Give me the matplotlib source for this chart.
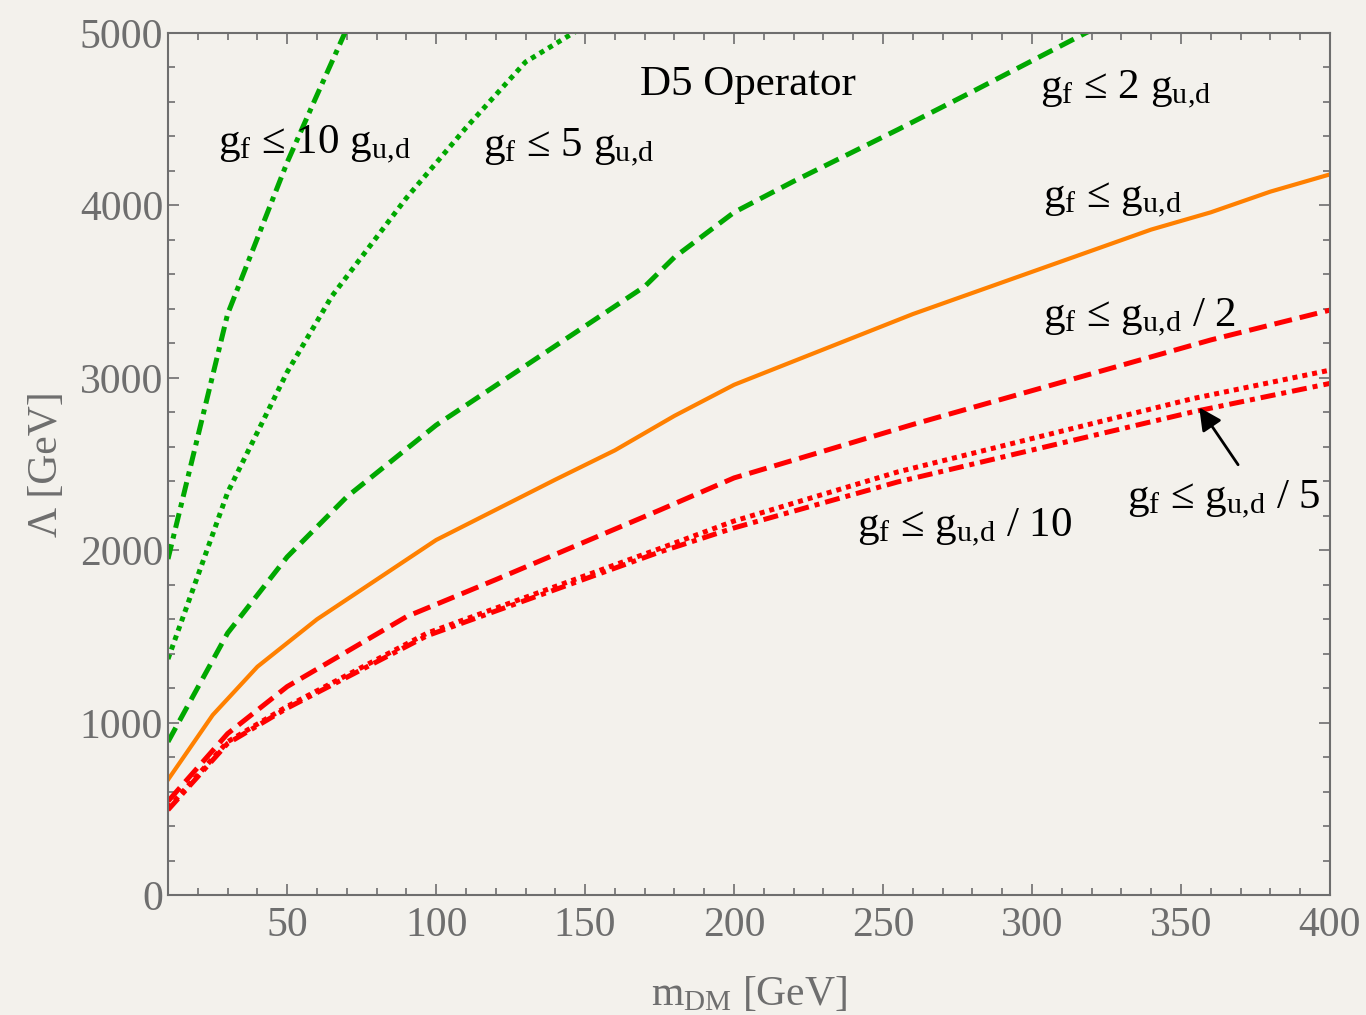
import matplotlib.pyplot as plt

# m_DM [GeV] and Lambda [GeV]
x_g10 = [10, 30, 40, 50, 60, 70]
y_g10 = [1950, 3370, 3810, 4250, 4640, 5025]

x_g5 = [10, 30, 50, 65, 90, 110, 130, 150]
y_g5 = [1370, 2335, 3034, 3474, 4043, 4450, 4832, 5042]

x_g2 = [10, 30, 50, 70, 100, 170, 180, 200, 220, 255, 280, 318, 330]
y_g2 = [890, 1520, 1962, 2310, 2726, 3530, 3700, 3960, 4140, 4440, 4660, 5000, 5100]

x_g1 = [10, 25, 40, 60, 100, 140, 160, 180, 200, 260, 340, 360, 380, 400]
y_g1 = [670, 1045, 1325, 1600, 2060, 2410, 2580, 2780, 2960, 3370, 3860, 3960, 4080, 4180]

x_gh2 = [10, 30, 50, 90, 120, 175, 200, 260, 360, 400]
y_gh2 = [545, 937, 1210, 1615, 1830, 2233, 2420, 2730, 3220, 3393]

x_gh5 = [10, 30, 50, 97, 175, 200, 255, 354, 400]
y_gh5 = [505, 890, 1095, 1520, 2010, 2170, 2455, 2880, 3045]

x_gh10 = [10, 30, 50, 97, 175, 200, 255, 354, 400]
y_gh10 = [495, 880, 1085, 1505, 1990, 2130, 2397, 2803, 2968]

plt.rcParams['font.family'] = ['Liberation Serif', 'DejaVu Serif']
plt.rcParams['mathtext.fontset'] = 'custom'
plt.rcParams['mathtext.rm'] = 'Liberation Serif'
plt.rcParams['mathtext.it'] = 'Liberation Serif'

paper = '#f3f1ec'
grey = '#6e6e6e'
green = '#00a800'
orange = '#ff8000'
red = '#ff0000'

fig = plt.figure(figsize=(13.66, 10.15), dpi=100, facecolor=paper)
ax = fig.add_axes([0.123, 0.118, 0.8506, 0.8495], facecolor=paper)

ax.plot(x_g10, y_g10, color=green, lw=3.6, dashes=(3.0, 1.2, 1, 1.2))
ax.plot(x_g5, y_g5, color=green, lw=3.6, dashes=(1, 1))
ax.plot(x_g2, y_g2, color=green, lw=3.6, dashes=(3.2, 1.6))
ax.plot(x_g1, y_g1, color=orange, lw=3.0)
ax.plot(x_gh2, y_gh2, color=red, lw=3.6, dashes=(3.6, 1.6))
ax.plot(x_gh5, y_gh5, color=red, lw=3.6, dashes=(1, 1))
ax.plot(x_gh10, y_gh10, color=red, lw=3.6, dashes=(3.0, 1.2, 1, 1.2))

ax.set_xlim(10, 400)
ax.set_ylim(0, 5000)
ax.set_xticks([50, 100, 150, 200, 250, 300, 350, 400])
ax.set_xticks(range(10, 401, 10), minor=True)
ax.set_yticks(range(0, 5001, 1000))
ax.set_yticks(range(0, 5001, 200), minor=True)
ax.tick_params(which='both', direction='in', top=True, right=True, color=grey,
               labelcolor=grey, labelsize=30, width=1.2)
ax.tick_params(which='major', length=8)
ax.tick_params(which='minor', length=5)
ax.tick_params(axis='x', pad=8)
for s in ax.spines.values():
    s.set_color(grey)
    s.set_linewidth(1.5)

ax.set_xlabel('m$_\\mathrm{DM}$ [GeV]', fontsize=30, color=grey, labelpad=22)
ax.set_ylabel('\u039b [GeV]', fontsize=30, color=grey, labelpad=10)

fs = 31
sub = 'g$_\\mathrm{u{,}d}$'
ax.text(26.8, 4350, 'g$_\\mathrm{f}$ \u2264 10 ' + sub, fontsize=fs, va='center')
ax.text(115.7, 4333, 'g$_\\mathrm{f}$ \u2264 5 ' + sub, fontsize=fs, va='center')
ax.text(168.4, 4698, 'D5 Operator', fontsize=fs, va='center')
ax.text(302.6, 4669, 'g$_\\mathrm{f}$ \u2264 2 ' + sub, fontsize=fs, va='center')
ax.text(303.6, 4031, 'g$_\\mathrm{f}$ \u2264 ' + sub, fontsize=fs, va='center')
ax.text(303.6, 3347, 'g$_\\mathrm{f}$ \u2264 ' + sub + ' / 2', fontsize=fs, va='center')
ax.text(241.2, 2129, 'g$_\\mathrm{f}$ \u2264 ' + sub + ' / 10', fontsize=fs, va='center')
ax.text(331.8, 2291, 'g$_\\mathrm{f}$ \u2264 ' + sub + ' / 5', fontsize=fs, va='center')
ax.annotate('', xy=(355.6, 2842), xytext=(369.7, 2483),
            arrowprops=dict(arrowstyle='-|>', color='black', lw=2, mutation_scale=34))

plt.savefig('out.png', dpi=100, facecolor=paper)
